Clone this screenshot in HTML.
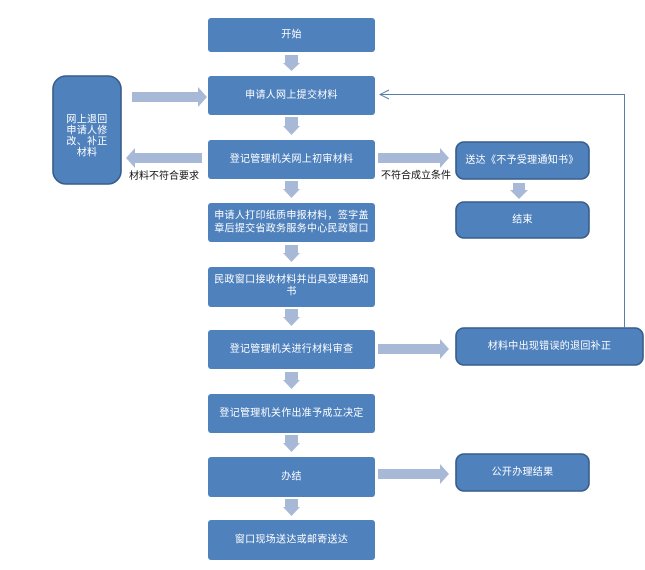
<!DOCTYPE html>
<html>
<head>
<meta charset="utf-8">
<style>
html,body{margin:0;padding:0;background:#fff;}
svg{display:block;}
text{font-family:"Liberation Sans","Noto Sans CJK SC",sans-serif;font-size:10px;}
.w{fill:#fff;text-anchor:middle;dominant-baseline:central;letter-spacing:0.3px;}
.k{fill:#111;dominant-baseline:central;}
.mb{fill:#4f81bd;}
.sb{fill:#4f81bd;stroke:#385d8a;stroke-width:1.6;}
.ar{fill:#a7b9d7;}
</style>
</head>
<body>
<svg width="645" height="570" viewBox="0 0 645 570" xmlns="http://www.w3.org/2000/svg">
<!-- main column boxes -->
<rect class="mb" x="208" y="18" width="167" height="34" rx="3"/>
<text class="w" x="291.5" y="35">开始</text>

<rect class="mb" x="208" y="76" width="167" height="39" rx="3"/>
<text class="w" x="291.5" y="95.5">申请人网上提交材料</text>

<rect class="mb" x="208" y="140" width="167" height="39" rx="3"/>
<text class="w" x="291.5" y="159.5">登记管理机关网上初审材料</text>

<rect class="mb" x="208" y="203" width="167" height="39" rx="3"/>
<text class="w" x="291.5" y="216">申请人打印纸质申报材料，签字盖</text>
<text class="w" x="291.5" y="229">章后提交省政务服务中心民政窗口</text>

<rect class="mb" x="208" y="267" width="167" height="40" rx="3"/>
<text class="w" x="291.5" y="280">民政窗口接收材料并出具受理通知</text>
<text class="w" x="291.5" y="292">书</text>

<rect class="mb" x="208" y="330" width="167" height="39" rx="3"/>
<text class="w" x="291.5" y="349.5">登记管理机关进行材料审查</text>

<rect class="mb" x="208" y="394" width="167" height="39" rx="3"/>
<text class="w" x="291.5" y="413.5">登记管理机关作出准予成立决定</text>

<rect class="mb" x="208" y="457" width="167" height="40" rx="3"/>
<text class="w" x="291.5" y="477">办结</text>

<rect class="mb" x="208" y="520" width="167" height="40" rx="3"/>
<text class="w" x="291.5" y="540">窗口现场送达或邮寄送达</text>

<!-- left box -->
<rect class="sb" x="53" y="76" width="68" height="108" rx="13" stroke-width="2"/>
<text class="w" x="87" y="120">网上退回</text>
<text class="w" x="87" y="131">申请人修</text>
<text class="w" x="87" y="142">改、补正</text>
<text class="w" x="87" y="153">材料</text>

<!-- right boxes -->
<rect class="sb" x="456" y="142" width="133" height="37" rx="8"/>
<text class="w" x="522" y="160.5">送达《不予受理通知书》</text>

<rect class="sb" x="456" y="202" width="133" height="36" rx="8"/>
<text class="w" x="522.5" y="220">结束</text>

<rect class="sb" x="456" y="328" width="187" height="37" rx="8"/>
<text class="w" x="549.5" y="346.5">材料中出现错误的退回补正</text>

<rect class="sb" x="456" y="454" width="133" height="37" rx="8"/>
<text class="w" x="522.5" y="472.5">公开办理结果</text>

<!-- down arrows main column -->
<g class="ar">
<path d="M285 55 H298 V63 H300 L291.5 71 L283 63 H285 Z"/>
<path d="M285 117 H298 V126 H300 L291.5 135 L283 126 H285 Z"/>
<path d="M285 181 H298 V189 H300 L291.5 198 L283 189 H285 Z"/>
<path d="M285 245 H298 V253 H300 L291.5 262 L283 253 H285 Z"/>
<path d="M285 309 H298 V317 H300 L291.5 326 L283 317 H285 Z"/>
<path d="M285 372 H298 V380 H300 L291.5 389 L283 380 H285 Z"/>
<path d="M285 435 H298 V443 H300 L291.5 452 L283 443 H285 Z"/>
<path d="M285 499 H298 V507 H300 L291.5 516 L283 507 H285 Z"/>
<!-- small down arrow right -->
<path d="M513 183 H525 V190 H528 L519 199 L510 190 H513 Z"/>
<!-- left box -> box2 -->
<path d="M132 92 H198 V87 L207 97 L198 107 V102 H132 Z"/>
<!-- box3 -> left -->
<path d="M202 153 H135 V148 L126 158 L135 168 V163 H202 Z"/>
<!-- box3 -> right -->
<path d="M378 153 H440 V148 L449 158 L440 168 V163 H378 Z"/>
<!-- box6 -> right -->
<path d="M378 344 H440 V339 L449 349 L440 359 V354 H378 Z"/>
<!-- box8 -> right -->
<path d="M378 469 H440 V464 L449 474 L440 484 V479 H378 Z"/>
</g>

<!-- feedback line -->
<path d="M624.5 328 V94.5 H380" fill="none" stroke="#5a7ca8" stroke-width="1"/>
<path d="M389 90 L380 94.5 L389 99" fill="none" stroke="#5a7ca8" stroke-width="1"/>

<!-- labels -->
<text class="k" x="129" y="176.5">材料不符合要求</text>
<text class="k" x="381" y="176">不符合成立条件</text>
</svg>
</body>
</html>
